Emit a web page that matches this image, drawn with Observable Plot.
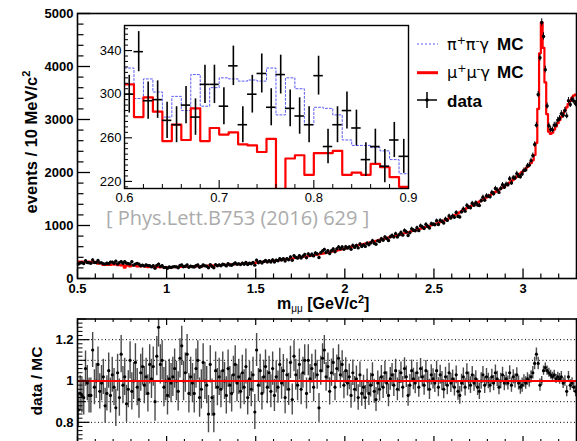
<!DOCTYPE html>
<html><head><meta charset="utf-8">
<script src="https://cdn.jsdelivr.net/npm/d3@7"></script>
<script src="https://cdn.jsdelivr.net/npm/@observablehq/plot@0.6"></script>
<style>
html,body{margin:0;padding:0;background:#fff;}
#wrap{position:relative;width:577px;height:441px;overflow:hidden;background:#fff;}
.layer{position:absolute;}
</style></head><body><div id="wrap"></div><script>
// mu+mu-gamma MC, 10 MeV bins from 0.50 to 3.30 GeV/c^2
const mcMuMu = [
318,312,321,309,315,306,317,311,304,312,
309,279,297,284,257,272,258,287,257,269,
263,265,254,253,247,259,205,241,244,226,
246,246,248,226,228,226,236,233,224,215,
222,217,225,214,220,216,211,220,214,210,
208,214,210,216,212,219,214,220,217,223,
221,226,223,229,225,231,227,233,230,236,
234,239,236,242,240,246,243,249,246,252,
251,255,258,256,262,260,266,264,270,272,
271,276,279,277,284,286,285,291,294,296,
300,303,306,310,313,317,320,324,328,331,
336,339,344,347,352,356,359,364,368,373,
378,382,387,392,397,402,406,412,417,423,
428,433,439,444,450,456,462,468,475,481,
490,496,505,511,520,527,537,544,553,561,
570,579,585,595,601,611,617,627,633,643,
650,659,666,676,683,693,700,710,717,727,
735,745,752,763,770,781,788,799,806,817,
825,835,843,854,862,873,881,892,900,911,
920,931,940,952,961,973,982,994,1003,1015,
1025,1038,1049,1064,1075,1091,1102,1118,1135,1152,
1170,1190,1208,1230,1248,1270,1288,1310,1327,1345,
1360,1378,1395,1414,1430,1450,1468,1490,1508,1530,
1550,1572,1591,1614,1633,1656,1675,1698,1717,1740,
1760,1787,1811,1839,1865,1895,1921,1952,1979,2011,
2040,2070,2105,2140,2180,2230,2330,2560,3200,4250,
4830,4350,3700,3100,2770,2730,2750,2810,2870,2930,
2990,3050,3110,3170,3230,3290,3350,3410,3450,3470
];
// data / MC ratio (lower panel)
const ratio = [
0.86,0.94,0.93,0.92,1.06,0.99,0.93,0.93,1.15,0.97,
1.00,1.08,0.95,0.99,1.02,0.88,0.94,1.05,0.93,1.03,
0.97,0.87,1.04,0.92,1.13,0.98,1.02,0.89,0.96,1.10,
0.95,1.00,1.09,0.97,0.91,1.04,1.07,0.98,1.02,0.94,
1.08,1.01,1.07,0.90,1.12,1.26,1.08,1.10,0.97,1.00,
0.93,1.01,0.99,1.02,1.06,1.00,0.95,1.11,1.17,1.00,
1.04,1.13,0.94,1.02,0.99,0.94,1.06,1.10,0.92,0.96,
1.09,1.00,0.98,0.84,1.08,0.92,0.84,1.05,0.97,1.02,
0.96,1.05,1.00,0.93,1.06,0.98,0.94,1.03,1.08,0.99,
1.02,0.95,1.04,0.97,1.07,0.92,1.01,0.96,1.03,0.85,
1.15,0.98,1.05,0.94,1.02,1.07,0.97,1.04,0.95,1.06,
0.93,1.02,0.97,1.08,0.99,1.05,0.92,1.03,0.96,1.09,
0.91,1.12,1.03,0.98,1.08,0.96,1.04,1.10,0.94,1.10,
1.01,1.06,0.97,1.08,1.03,0.87,1.05,1.11,1.15,1.02,
1.07,0.95,1.04,1.09,0.97,1.06,1.11,1.03,1.08,0.98,
1.05,0.99,1.02,0.93,1.04,0.96,1.01,0.92,1.03,0.94,
0.97,0.92,1.00,0.94,0.98,1.03,0.95,0.91,0.99,0.96,
1.02,0.97,1.04,0.99,0.93,1.01,1.03,0.98,1.05,0.96,
1.00,1.04,0.97,1.06,1.02,0.93,0.98,1.05,1.01,0.99,
1.04,0.97,1.06,1.02,0.98,1.05,1.00,0.96,1.03,1.01,
0.99,1.05,0.97,1.03,1.00,0.96,1.02,0.98,1.04,0.99,
1.01,0.97,1.03,0.95,0.93,0.99,1.02,0.97,1.04,1.00,
0.98,1.03,0.99,1.01,0.97,0.95,1.00,1.03,0.98,1.02,
1.00,0.98,1.02,0.99,1.04,1.01,0.97,1.00,1.03,0.99,
1.01,0.99,1.04,0.98,1.02,1.00,1.03,0.99,0.97,0.98,
1.00,0.99,1.01,1.00,1.02,1.04,1.085,1.13,1.085,0.98,
1.00,1.05,1.065,1.05,1.04,1.03,1.02,1.03,1.01,1.02,
1.01,1.02,0.99,1.00,0.95,1.02,0.98,0.99,0.97,0.95
];
// ratio error, one value per 100 MeV
const ratioErrBy100MeV = [0.085,0.085,0.09,0.09,0.095,0.095,0.095,0.09,0.09,0.085,0.08,0.078,0.075,0.07,0.066,0.062,0.058,0.055,0.052,0.049,0.046,0.043,0.04,0.037,0.034,0.03,0.022,0.026];
// inset (0.60 - 0.90)
const insetData = [300,339,294,295,276,272,290,279,309,309,289,326,272,300,319,288,318,287,280,272,317,252,272,285,269,240,252,234,258,243];
const insetErr = [17.3,18.4,17.1,17.2,16.6,16.5,17.0,16.7,17.6,17.6,17.0,18.1,16.5,17.3,17.9,17.0,17.8,16.9,16.7,16.5,17.8,15.9,16.5,16.9,16.4,15.5,15.9,15.3,16.1,15.6];
const insetPiPi = [324,296,314,302,279,298,285,318,289,306,315,314,312,313,312,324,281,315,305,272,288,287,281,258,253,253,251,248,240,227];
// tick labels
const mainYMajor = [0,1000,2000,3000,4000,5000];
const mainXMajor = [0.5,1,1.5,2,2.5,3];
const insetXMajor = [0.6,0.7,0.8,0.9];
const insetYMajor = [220,260,300,340];
const ratioYMajor = [0.8,1,1.2];
const ratioYSecondary = [0.7,0.9,1.1,1.3];
const ratioGrid = [0.8,0.9,1.1,1.2];

const FONT = "'Liberation Sans', Arial, Helvetica, sans-serif";
const bins = mcMuMu.map((mc, i) => {
  const lo = 0.5 + 0.01 * i;
  const j = i - 10;
  const data = (j >= 0 && j < insetData.length) ? insetData[j] : Math.round(mc * ratio[i]);
  return {i, lo, xc: lo + 0.005, mc, data, err: Math.sqrt(data), r: ratio[i], rErr: ratioErrBy100MeV[Math.floor(i / 10)]};
});
const mcStep = bins.map(b => ({x: b.lo, y: b.mc})).concat([{x: 3.3, y: mcMuMu[mcMuMu.length - 1]}]);
const insetBins = insetData.map((v, j) => ({lo: 0.6 + 0.01 * j, hi: 0.61 + 0.01 * j, xc: 0.605 + 0.01 * j, v, e: insetErr[j], red: mcMuMu[10 + j], blue: insetPiPi[j]}));
const insetRed = insetBins.map(b => ({x: b.lo, y: b.red})).concat([{x: 0.9, y: insetBins[insetBins.length - 1].red}]);
const insetBlue = insetBins.map(b => ({x: b.lo, y: b.blue})).concat([{x: 0.9, y: insetBins[insetBins.length - 1].blue}]);

const xMinor = d3.range(5, 34).filter(k => k % 5 !== 0).map(k => k / 10);
const wrap = document.getElementById("wrap");
function place(el, left, top) { el.classList.add("layer"); el.style.left = left + "px"; el.style.top = top + "px"; wrap.appendChild(el); }

// ---------- main panel ----------
{
  const W = 577, H = 300, mL = 77, mR = 1, mT = 13, mB = 22;
  const iw = W - mL - mR, ih = H - mT - mB;
  const yMinor = d3.range(0, 5001, 200).filter(v => v % 1000 !== 0);
  const svg = Plot.plot({
    width: W, height: H, marginLeft: mL, marginRight: mR, marginTop: mT, marginBottom: mB,
    x: {domain: [0.5, 3.3], label: null},
    y: {domain: [0, 5000], label: null},
    style: {fontFamily: FONT, fontSize: "13px", fontWeight: "bold", color: "#000", background: "transparent", overflow: "visible"},
    marks: [
      Plot.line(mcStep, {x: "x", y: "y", curve: "step-after", stroke: "#ff0000", strokeWidth: 2.2, clip: true}),
      Plot.ruleX(bins, {x: "xc", y1: d => d.data - d.err, y2: d => d.data + d.err, stroke: "#000", strokeWidth: 1}),
      Plot.dot(bins, {x: "xc", y: "data", r: 1.7, fill: "#000", stroke: null}),
      Plot.tickY(mainYMajor, {y: d => d, insetRight: iw - 13, stroke: "#000", strokeWidth: 1.3}),
      Plot.tickY(yMinor, {y: d => d, insetRight: iw - 6.5, stroke: "#000", strokeWidth: 1.2}),
      Plot.tickX(mainXMajor, {x: d => d, insetTop: ih - 9.5, stroke: "#000", strokeWidth: 1.3}),
      Plot.tickX(xMinor, {x: d => d, insetTop: ih - 4.5, stroke: "#000", strokeWidth: 1.2}),
      Plot.frame({stroke: "#000", strokeWidth: 1.6}),
      Plot.axisY(mainYMajor, {tickSize: 0, tickPadding: 4, label: null, tickFormat: d => String(d)}),
      Plot.axisX(mainXMajor, {tickSize: 0, tickPadding: 5, label: null, tickFormat: d => String(d)})
    ]
  });
  place(svg, 0, 0);
}

// ---------- inset ----------
{
  const W = 325, H = 190, mL = 34, mR = 7, mT = 5, mB = 22;
  const iw = W - mL - mR, ih = H - mT - mB;
  const yMinor = d3.range(215, 363, 5).filter(v => (v - 220) % 40 !== 0);
  const xMin = d3.range(60, 91, 2).filter(k => k % 10 !== 0).map(k => k / 100);
  const svg = Plot.plot({
    width: W, height: H, marginLeft: mL, marginRight: mR, marginTop: mT, marginBottom: mB,
    x: {domain: [0.6, 0.9], label: null},
    y: {domain: [213.5, 363], label: null},
    style: {fontFamily: FONT, fontSize: "13px", fontWeight: "normal", color: "#000", background: "transparent", overflow: "visible"},
    marks: [
      Plot.frame({fill: "#fff", stroke: null}),
      Plot.line(insetBlue, {x: "x", y: "y", curve: "step-after", stroke: "#5a5af5", strokeWidth: 1, strokeDasharray: "2,2", clip: true}),
      Plot.line(insetRed, {x: "x", y: "y", curve: "step-after", stroke: "#ff0000", strokeWidth: 2.2, clip: true}),
      Plot.ruleX(insetBins, {x: "xc", y1: d => d.v - d.e, y2: d => d.v + d.e, stroke: "#000", strokeWidth: 1.6, clip: true}),
      Plot.ruleY(insetBins, {y: "v", x1: "lo", x2: "hi", stroke: "#000", strokeWidth: 1.6, clip: true}),
      Plot.tickY(insetYMajor, {y: d => d, insetRight: iw - 8, stroke: "#000", strokeWidth: 1.1}),
      Plot.tickY(yMinor, {y: d => d, insetRight: iw - 4, stroke: "#000", strokeWidth: 1}),
      Plot.tickX(insetXMajor, {x: d => d, insetTop: ih - 8, stroke: "#000", strokeWidth: 1.1}),
      Plot.tickX(xMin, {x: d => d, insetTop: ih - 4, stroke: "#000", strokeWidth: 1}),
      Plot.frame({stroke: "#000", strokeWidth: 1.4}),
      Plot.axisY(insetYMajor, {tickSize: 0, tickPadding: 3, label: null, tickFormat: d => String(d)}),
      Plot.axisX(insetXMajor, {tickSize: 0, tickPadding: 4, label: null, tickFormat: d => String(d)})
    ]
  });
  place(svg, 90, 20);
}

// ---------- ratio panel ----------
{
  const W = 577, H = 150, mL = 77, mR = 1, mT = 8.5, mB = 17.5;
  const iw = W - mL - mR, ih = H - mT - mB;
  const tert = d3.range(70, 131, 2).filter(k => k % 10 !== 0).map(k => k / 100);
  const svg = Plot.plot({
    width: W, height: H, marginLeft: mL, marginRight: mR, marginTop: mT, marginBottom: mB,
    x: {domain: [0.5, 3.3], label: null, axis: null},
    y: {domain: [0.7, 1.3], label: null},
    style: {fontFamily: FONT, fontSize: "13px", fontWeight: "bold", color: "#000", background: "transparent", overflow: "visible"},
    marks: [
      Plot.ruleY(ratioGrid, {y: d => d, stroke: "#000", strokeWidth: 1, strokeDasharray: "1,2.5"}),
      Plot.ruleX(bins, {x: "xc", y1: d => d.r - d.rErr, y2: d => d.r + d.rErr, stroke: "#4a4a4a", strokeWidth: 1.4, clip: true}),
      Plot.dot(bins, {x: "xc", y: "r", r: 1.6, fill: "#000", stroke: null, clip: true}),
      Plot.ruleY([1], {stroke: "#ff0000", strokeWidth: 2}),
      Plot.tickY(ratioYMajor, {y: d => d, insetRight: iw - 12.5, stroke: "#000", strokeWidth: 1.2}),
      Plot.tickY(ratioYSecondary, {y: d => d, insetRight: iw - 9, stroke: "#000", strokeWidth: 1.1}),
      Plot.tickY(tert, {y: d => d, insetRight: iw - 5.5, stroke: "#000", strokeWidth: 1}),
      Plot.tickX(mainXMajor, {x: d => d, insetTop: ih - 6.5, stroke: "#000", strokeWidth: 1.2}),
      Plot.tickX(xMinor, {x: d => d, insetTop: ih - 3.5, stroke: "#000", strokeWidth: 1.1}),
      Plot.tickX(mainXMajor, {x: d => d, insetBottom: ih - 6.5, stroke: "#000", strokeWidth: 1.2}),
      Plot.tickX(xMinor, {x: d => d, insetBottom: ih - 3.5, stroke: "#000", strokeWidth: 1.1}),
      Plot.frame({stroke: "#000", strokeWidth: 1.6}),
      Plot.axisY(ratioYMajor, {tickSize: 0, tickPadding: 4, label: null, tickFormat: d => String(d)})
    ]
  });
  place(svg, 0, 310);
}

// ---------- titles, watermark, legend ----------
{
  const svg = d3.create("svg").attr("width", 577).attr("height", 441).style("pointer-events", "none");
  svg.append("text").attr("x", 106).attr("y", 225).attr("font-family", "'Open Sans', sans-serif").attr("font-size", 20).attr("fill", "#ababab").text("[ Phys.Lett.B753 (2016) 629 ]");
  const xt = svg.append("text").attr("x", 277).attr("y", 309).attr("font-family", FONT).attr("font-weight", "bold").attr("font-size", 16);
  xt.append("tspan").text("m");
  xt.append("tspan").attr("font-size", 10).attr("font-weight", "normal").attr("dy", 3).text("μμ");
  xt.append("tspan").attr("dy", -3).text(" [GeV/c");
  xt.append("tspan").attr("font-size", 11).attr("dy", -6).text("2");
  xt.append("tspan").attr("dy", 6).text("]");
  const yt = svg.append("text").attr("transform", "translate(37,142) rotate(-90)").attr("text-anchor", "middle").attr("font-family", FONT).attr("font-weight", "bold").attr("font-size", 16.5);
  yt.append("tspan").text("events / 10 MeV/c");
  yt.append("tspan").attr("font-size", 11).attr("dy", -7).text("2");
  svg.append("text").attr("transform", "translate(42,381) rotate(-90)").attr("text-anchor", "middle").attr("font-family", FONT).attr("font-weight", "bold").attr("font-size", 15.5).text("data / MC");
  // legend
  svg.append("line").attr("x1", 417).attr("x2", 438).attr("y1", 44).attr("y2", 44).attr("stroke", "#5a5af5").attr("stroke-width", 1).attr("stroke-dasharray", "2,2");
  svg.append("line").attr("x1", 417).attr("x2", 438).attr("y1", 72.7).attr("y2", 72.7).attr("stroke", "#ff0000").attr("stroke-width", 3);
  svg.append("line").attr("x1", 417).attr("x2", 437).attr("y1", 100).attr("y2", 100).attr("stroke", "#000").attr("stroke-width", 1.5);
  svg.append("line").attr("x1", 427).attr("x2", 427).attr("y1", 92).attr("y2", 108).attr("stroke", "#000").attr("stroke-width", 1.5);
  svg.append("circle").attr("cx", 427).attr("cy", 100).attr("r", 1.8).attr("fill", "#000");
  function greek(y, a) {
    const t = svg.append("text").attr("x", 447).attr("y", y).attr("font-family", "'DejaVu Sans', sans-serif").attr("font-size", 16);
    t.append("tspan").text(a);
    t.append("tspan").attr("font-size", 11).attr("dy", -6).text("+");
    t.append("tspan").attr("dy", 6).text(a);
    t.append("tspan").attr("font-size", 11).attr("dy", -6).text("-");
    t.append("tspan").attr("dy", 6).text("γ");
  }
  greek(50, "π"); greek(78.3, "μ");
  svg.append("text").attr("x", 497).attr("y", 50).attr("font-family", FONT).attr("font-weight", "bold").attr("font-size", 17).text("MC");
  svg.append("text").attr("x", 497).attr("y", 78.3).attr("font-family", FONT).attr("font-weight", "bold").attr("font-size", 17).text("MC");
  svg.append("text").attr("x", 447).attr("y", 106.5).attr("font-family", FONT).attr("font-weight", "bold").attr("font-size", 17).text("data");
  place(svg.node(), 0, 0);
}
</script></body></html>
